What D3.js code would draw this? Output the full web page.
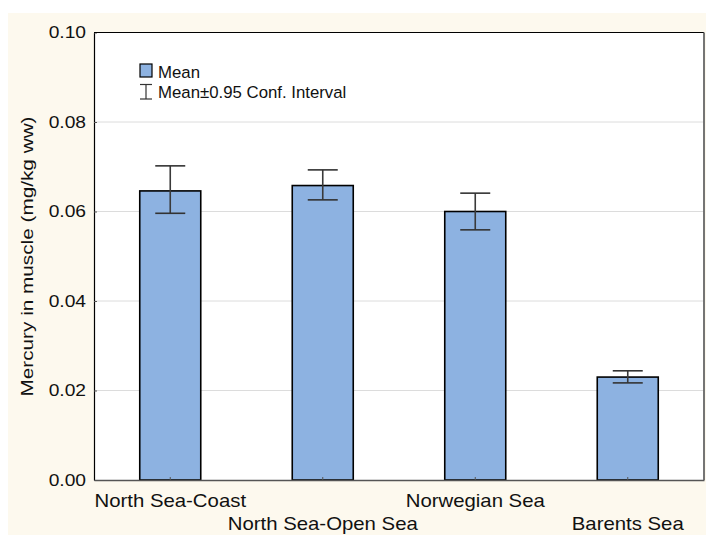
<!DOCTYPE html>
<html>
<head>
<meta charset="utf-8">
<script src="https://cdn.jsdelivr.net/npm/d3@7/dist/d3.min.js"></script>
<style>
  html, body { margin: 0; padding: 0; background: #ffffff; }
  svg { display: block; }
  text { font-family: "Liberation Sans", Arial, sans-serif; fill: #111; }
</style>
</head>
<body>
<script>
// Mean mercury concentration in fish muscle by sea area, with 95% confidence intervals
const categories = ["North Sea-Coast", "North Sea-Open Sea", "Norwegian Sea", "Barents Sea"];
const means  = [0.0646, 0.0658, 0.0600, 0.0230];
const ciLow  = [0.0596, 0.0626, 0.0559, 0.0217];
const ciHigh = [0.0702, 0.0693, 0.0641, 0.0244];
const yTicks = [0.00, 0.02, 0.04, 0.06, 0.08, 0.10];
const yTitle = "Mercury in muscle (mg/kg ww)";
const legendItems = ["Mean", "Mean\u00b10.95 Conf. Interval"];

const W = 706, H = 535;
const plot = { left: 94, right: 704, top: 32.5, bottom: 480 };
const barFill = "#8db2e1";

const svg = d3.select("body").append("svg").attr("width", W).attr("height", H);

// cream page panel
svg.append("rect").attr("x", 8).attr("y", 13).attr("width", W - 8).attr("height", H - 13)
  .attr("fill", "#fdf9ee");
// white plotting area
svg.append("rect").attr("x", plot.left).attr("y", plot.top)
  .attr("width", plot.right - plot.left).attr("height", plot.bottom - plot.top)
  .attr("fill", "#ffffff");

const x = d3.scaleBand().domain(categories).range([plot.left, plot.right])
  .paddingInner(0.6).paddingOuter(0.3);
const y = d3.scaleLinear().domain([0, 0.1]).range([plot.bottom, plot.top]);

// stretch a text node along its reading direction
function stretch(sel, f) {
  sel.each(function () {
    const len = this.getComputedTextLength();
    d3.select(this).attr("textLength", len * f).attr("lengthAdjust", "spacingAndGlyphs");
  });
}

// horizontal grid
svg.append("g").selectAll("line").data(yTicks.filter(t => t > 0 && t < 0.1)).join("line")
  .attr("x1", plot.left).attr("x2", plot.right)
  .attr("y1", d => y(d)).attr("y2", d => y(d))
  .attr("stroke", "#dcdcdc").attr("stroke-width", 1);

// bars
const data = categories.map((c, i) => ({ c, m: means[i], lo: ciLow[i], hi: ciHigh[i] }));
svg.append("g").selectAll("rect").data(data).join("rect")
  .attr("x", d => x(d.c)).attr("width", x.bandwidth())
  .attr("y", d => y(d.m)).attr("height", d => y(0) - y(d.m))
  .attr("fill", barFill).attr("stroke", "#000").attr("stroke-width", 1.6);

// confidence interval whiskers
const eb = svg.append("g").selectAll("g").data(data).join("g")
  .attr("transform", d => `translate(${x(d.c) + x.bandwidth() / 2},0)`);
eb.append("line").attr("x1", 0).attr("x2", 0)
  .attr("y1", d => y(d.hi)).attr("y2", d => y(d.lo))
  .attr("stroke", "#3a3a3a").attr("stroke-width", 1.6);
eb.append("line").attr("x1", -15).attr("x2", 15)
  .attr("y1", d => y(d.hi)).attr("y2", d => y(d.hi))
  .attr("stroke", "#333", ).attr("stroke-width", 1.6);
eb.append("line").attr("x1", -15).attr("x2", 15)
  .attr("y1", d => y(d.lo)).attr("y2", d => y(d.lo))
  .attr("stroke", "#333").attr("stroke-width", 1.6);

// y axis
const yAxis = svg.append("g").attr("transform", `translate(${plot.left},0)`)
  .call(d3.axisLeft(y).tickValues(yTicks).tickFormat(d3.format(".2f"))
    .tickSizeInner(-3).tickSizeOuter(0).tickPadding(8));
yAxis.select(".domain").attr("stroke", "#000").attr("stroke-width", 1.2);
yAxis.selectAll(".tick line").attr("stroke", "#555");
yAxis.selectAll(".tick text").attr("font-size", 16).attr("fill", "#111")
  .attr("font-family", "Liberation Sans, Arial, sans-serif").call(stretch, 1.2);

// x axis with staggered category labels
const xAxis = svg.append("g").attr("transform", `translate(0,${plot.bottom})`)
  .call(d3.axisBottom(x).tickSizeInner(-3).tickSizeOuter(0).tickPadding(0));
xAxis.select(".domain").attr("stroke", "#555").attr("stroke-width", 1.6);
xAxis.selectAll(".tick line").attr("stroke", "#555");
xAxis.selectAll(".tick text")
  .attr("font-size", 18.5).attr("fill", "#111")
  .attr("font-family", "Liberation Sans, Arial, sans-serif")
  .attr("y", (d, i) => (i % 2 === 0 ? 27 : 50)).attr("dy", 0)
  .call(stretch, 1.1);

// frame: top, right
svg.append("line").attr("x1", plot.left).attr("x2", plot.right)
  .attr("y1", plot.top).attr("y2", plot.top).attr("stroke", "#000").attr("stroke-width", 1.2);
svg.append("line").attr("x1", plot.right).attr("x2", plot.right)
  .attr("y1", plot.top).attr("y2", plot.bottom).attr("stroke", "#666").attr("stroke-width", 1.8);

// y axis title
svg.append("text")
  .attr("transform", `translate(32.5,${(116 + 397) / 2}) rotate(-90)`)
  .attr("text-anchor", "middle").attr("font-size", 17)
  .text(yTitle).call(stretch, 1.22);

// legend
const lg = svg.append("g");
lg.append("rect").attr("x", 140).attr("y", 64).attr("width", 12).attr("height", 13)
  .attr("fill", barFill).attr("stroke", "#000").attr("stroke-width", 1.2);
lg.append("text").attr("x", 158).attr("y", 78).attr("font-size", 16.8).text(legendItems[0]);
lg.append("line").attr("x1", 146).attr("x2", 146).attr("y1", 84.5).attr("y2", 99)
  .attr("stroke", "#333").attr("stroke-width", 1.2);
lg.append("line").attr("x1", 140).attr("x2", 152).attr("y1", 84.5).attr("y2", 84.5)
  .attr("stroke", "#333").attr("stroke-width", 1.2);
lg.append("line").attr("x1", 140).attr("x2", 152).attr("y1", 99).attr("y2", 99)
  .attr("stroke", "#333").attr("stroke-width", 1.2);
lg.append("text").attr("x", 158).attr("y", 97.5).attr("font-size", 16.8).text(legendItems[1]);
</script>
</body>
</html>
